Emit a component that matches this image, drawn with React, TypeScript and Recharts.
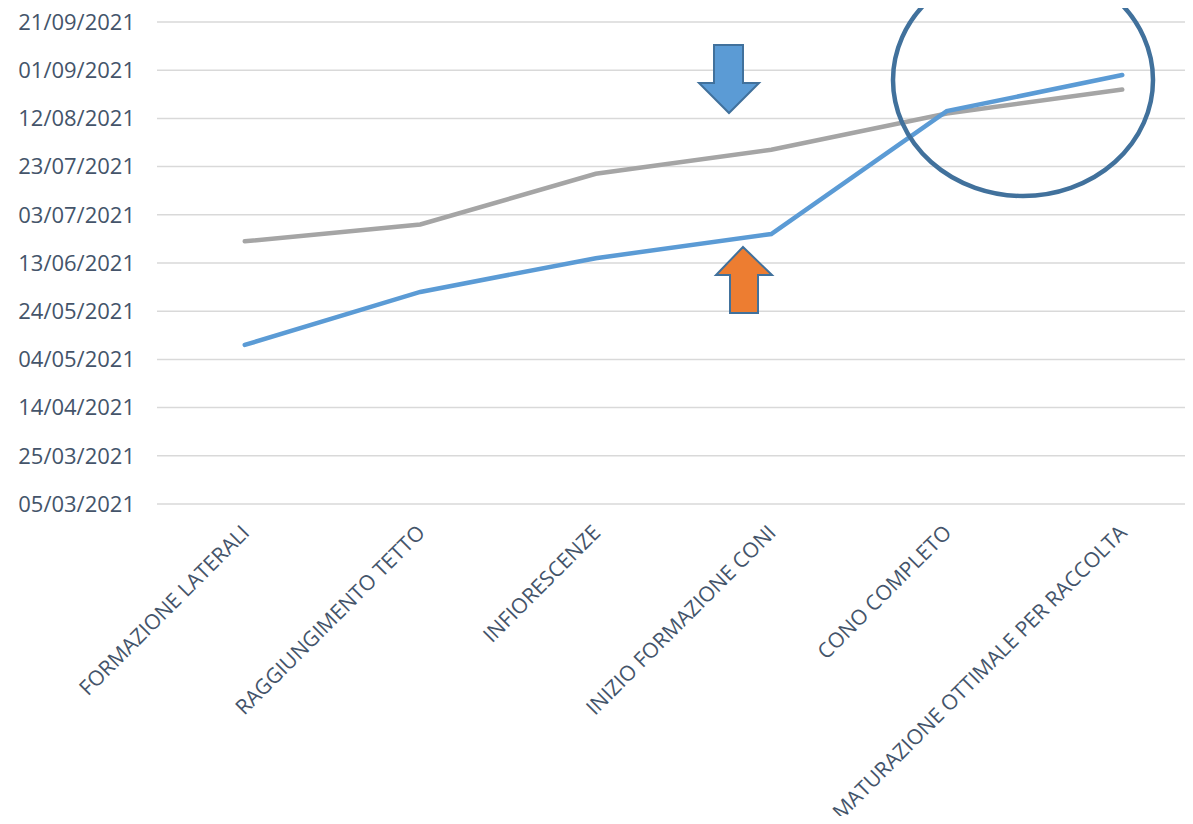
import { CartesianGrid, Line, LineChart, XAxis, YAxis } from 'recharts'

// Fasi fenologiche (asse X)
const phases = [
  'FORMAZIONE LATERALI',
  'RAGGIUNGIMENTO TETTO',
  'INFIORESCENZE',
  'INIZIO FORMAZIONE CONI',
  'CONO COMPLETO',
  'MATURAZIONE OTTIMALE PER RACCOLTA',
]

// Serie blu e grigia (date)
const blueDates = ['10/05/2021', '01/06/2021', '15/06/2021', '25/06/2021', '15/08/2021', '30/08/2021']
const grayDates = ['22/06/2021', '29/06/2021', '20/07/2021', '30/07/2021', '14/08/2021', '24/08/2021']

// Tick asse Y (ogni 20 giorni)
const yTickLabels = [
  '05/03/2021', '25/03/2021', '14/04/2021', '04/05/2021', '24/05/2021', '13/06/2021',
  '03/07/2021', '23/07/2021', '12/08/2021', '01/09/2021', '21/09/2021',
]

const parse = (s: string) => {
  const [d, m, y] = s.split('/').map(Number)
  return Date.UTC(y, m - 1, d)
}

const fmtDate = (t: number) => {
  const d = new Date(t)
  const dd = String(d.getUTCDate()).padStart(2, '0')
  const mm = String(d.getUTCMonth() + 1).padStart(2, '0')
  return `${dd}/${mm}/${d.getUTCFullYear()}`
}

const yTicks = yTickLabels.map(parse)

const data = phases.map((p, i) => ({
  phase: p,
  blue: parse(blueDates[i]),
  gray: parse(grayDates[i]),
}))

const FONT = '"Open Sans", "Noto Sans", sans-serif'
const TEXT = '#44546a'

function XTick({ x, y, payload }: { x?: number; y?: number; payload?: { value: string } }) {
  const tx = (x ?? 0) + 6
  const ty = (y ?? 0) + 22
  return (
    <text
      x={tx}
      y={ty}
      transform={`rotate(-45 ${tx} ${ty})`}
      textAnchor="end"
      fill={TEXT}
      fontSize={21}
      fontFamily={FONT}
    >
      {payload?.value}
    </text>
  )
}

export default function App() {
  return (
    <div
      style={{
        position: 'relative',
        width: 1193,
        height: 824,
        overflow: 'hidden',
        margin: -8,
        background: '#fff',
      }}
    >
      <LineChart
        width={1230}
        height={824}
        data={data}
        margin={{ top: 22, right: 20, bottom: 290, left: 0 }}
      >
        <CartesianGrid stroke="#d9d9d9" strokeWidth={1.5} vertical={false} />
        <XAxis
          dataKey="phase"
          axisLine={false}
          tickLine={false}
          interval={0}
          height={30}
          padding={{ left: 87.75, right: 87.75 }}
          tick={<XTick />}
        />
        <YAxis
          type="number"
          domain={[yTicks[0], yTicks[yTicks.length - 1]]}
          ticks={yTicks}
          tickFormatter={fmtDate}
          axisLine={false}
          tickLine={false}
          tickMargin={16}
          width={157}
          tick={{ fill: TEXT, fontSize: 22, fontFamily: FONT }}
        />
        <Line
          type="linear"
          dataKey="gray"
          stroke="#a5a5a5"
          strokeWidth={4.5}
          strokeLinecap="round"
          dot={false}
          isAnimationActive={false}
        />
        <Line
          type="linear"
          dataKey="blue"
          stroke="#5b9bd5"
          strokeWidth={4.5}
          strokeLinecap="round"
          dot={false}
          isAnimationActive={false}
        />
      </LineChart>
      <svg
        width={1193}
        height={824}
        style={{ position: 'absolute', left: 0, top: 0, pointerEvents: 'none' }}
      >
        <polygon
          points="714,45 743,45 743,83 759,83 729,113 699,83 714,83"
          fill="#5b9bd5"
          stroke="#41719c"
          strokeWidth={2}
        />
        <polygon
          points="743,247 772,275 758,275 758,313 730,313 730,275 716,275"
          fill="#ed7d31"
          stroke="#41719c"
          strokeWidth={2}
        />
        <ellipse cx={1023} cy={80} rx={130} ry={116} fill="none" stroke="#41719c" strokeWidth={4.5} />
      </svg>
    </div>
  )
}
